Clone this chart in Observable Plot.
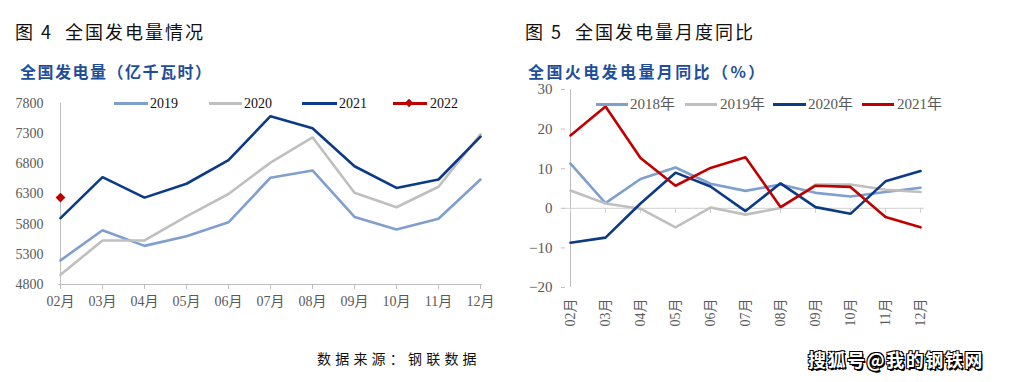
<!DOCTYPE html>
<html>
<head>
<meta charset="utf-8">
<script src="https://cdn.jsdelivr.net/npm/d3@7"></script>
<script src="https://cdn.jsdelivr.net/npm/@observablehq/plot@0.6"></script>
<style>
  html, body { margin: 0; padding: 0; background: #fff; }
  #root { position: relative; width: 1013px; height: 382px; overflow: hidden; background: #fff; }
  .abs { position: absolute; white-space: pre; }
  .title { font-family: "Noto Sans CJK SC", sans-serif; font-size: 18px; color: #111; letter-spacing: 2px; line-height: 18px; }
  .sub { font-family: "Noto Sans CJK SC", sans-serif; font-size: 16px; font-weight: bold; color: #1f4e99; line-height: 16px; }
  .leg { font-family: "Liberation Serif", "Noto Sans CJK SC", serif; line-height: 15px; }
  .swatch { position: absolute; height: 2.5px; }
  .plot { position: absolute; }
  .plot svg { overflow: visible; }
</style>
</head>
<body>
<div id="root"></div>
<script>
// ---------- data ----------
const months = ["02月","03月","04月","05月","06月","07月","08月","09月","10月","11月","12月"];

// 图4 全国发电量（亿千瓦时）
const genYears = ["2019","2020","2021","2022"];
const gen2019 = [5200, 5700, 5440, 5600, 5830, 6570, 6690, 5920, 5710, 5890, 6540];
const gen2020 = [4960, 5530, 5530, 5930, 6300, 6820, 7240, 6320, 6080, 6420, 7290];
const gen2021 = [5900, 6580, 6240, 6470, 6860, 7590, 7390, 6760, 6400, 6540, 7250];
const gen2022 = [6240];
const genTicks = [4800, 5300, 5800, 6300, 6800, 7300, 7800];

// 图5 全国火电发电量月同比（%）
const yoyYears = ["2018年","2019年","2020年","2021年"];
const yoy2018 = [11.3, 1.3, 7.4, 10.3, 6.2, 4.4, 6.0, 3.9, 3.0, 4.1, 5.2];
const yoy2019 = [4.5, 1.2, -0.1, -4.8, 0.2, -1.6, 0.1, 6.0, 6.0, 4.7, 4.1];
const yoy2020 = [-8.7, -7.4, 1.2, 9.0, 5.5, -0.7, 6.3, 0.3, -1.4, 6.8, 9.4];
const yoy2021 = [18.4, 25.7, 12.7, 5.7, 10.2, 12.9, 0.3, 5.7, 5.4, -2.2, -4.8];
const yoyTicks = [-20, -10, 0, 10, 20, 30];

const genColors = ["#7f9fcf", "#bfbfbf", "#0b3a86", "#c00000"];
const yoyColors = ["#7f9fcf", "#bfbfbf", "#0b3a86", "#c00000"];

// ---------- tables ----------
function toRows(years, arrays) {
  const rows = [];
  years.forEach((yr, i) => arrays[i].forEach((v, j) => rows.push({series: yr, month: months[j], value: v})));
  return rows;
}
const genRows = toRows(genYears.slice(0, 3), [gen2019, gen2020, gen2021]);
const gen22Rows = toRows(["2022"], [gen2022]);
const yoyRows = toRows(yoyYears, [yoy2018, yoy2019, yoy2020, yoy2021]);

const root = document.getElementById("root");
function addDiv(cls, text, left, top, extra = {}) {
  const d = document.createElement("div");
  d.className = "abs " + cls;
  d.textContent = text;
  d.style.left = left + "px";
  d.style.top = top + "px";
  Object.assign(d.style, extra);
  root.appendChild(d);
  return d;
}

// ---------- titles ----------
addDiv("title", "图 4  全国发电量情况", 15, 22);
addDiv("sub", "全国发电量（亿千瓦时）", 20, 63, {letterSpacing: "1.5px"});
addDiv("title", "图 5  全国发电量月度同比", 525, 22);
addDiv("sub", "全国火电发电量月同比（%）", 528, 63, {letterSpacing: "2.4px"});

// ---------- left chart ----------
const left = Plot.plot({
  width: 510, height: 250,
  marginLeft: 58, marginRight: 28, marginTop: 23, marginBottom: 46,
  style: {fontFamily: "'Liberation Serif', 'Noto Sans CJK SC', serif", fontSize: "14px", color: "#595959", background: "transparent", overflow: "visible"},
  x: {type: "point", domain: months, padding: 0},
  y: {domain: [4800, 7800]},
  color: {domain: genYears, range: genColors},
  marks: [
    Plot.ruleX([months[0]], {stroke: "#bfbfbf", strokeWidth: 1}),
    Plot.ruleY([4800], {stroke: "#bfbfbf", strokeWidth: 1}),
    Plot.axisY({ticks: genTicks, tickSize: 0, tickPadding: 15, tickFormat: d => String(d), fill: "#595959", fontSize: 14, label: null}),
    Plot.axisX({tickSize: 5, tickPadding: 7, stroke: "#bfbfbf", fill: "#595959", fontSize: 14, label: null}),
    Plot.line(genRows, {x: "month", y: "value", z: "series", stroke: "series", strokeWidth: 2.6, strokeLinejoin: "miter"}),
    Plot.dot(gen22Rows, {x: "month", y: "value", symbol: "diamond2", fill: "series", stroke: "series", r: 3.5})
  ]
});
const lw = document.createElement("div");
lw.className = "plot"; lw.style.left = "0px"; lw.style.top = "80px";
lw.appendChild(left);
root.appendChild(lw);

// left legend
const genLeg = [
  {x1: 114, x2: 148, tx: 150},
  {x1: 209, x2: 242, tx: 244},
  {x1: 302, x2: 337, tx: 339},
  {x1: 393, x2: 427, tx: 430}
];
genYears.forEach((yr, i) => {
  const g = genLeg[i];
  const s = document.createElement("div");
  s.className = "swatch";
  s.style.left = g.x1 + "px"; s.style.width = (g.x2 - g.x1) + "px";
  s.style.top = "102px"; s.style.background = genColors[i];
  root.appendChild(s);
  if (i === 3) {
    const m = document.createElement("div");
    m.style.position = "absolute";
    m.style.left = "406px"; m.style.top = "99.5px";
    m.style.width = "6px"; m.style.height = "6px";
    m.style.background = genColors[i];
    m.style.transform = "rotate(45deg)";
    root.appendChild(m);
  }
  addDiv("leg", yr, g.tx, 96, {fontSize: "14px", color: "#111"});
});

// ---------- right chart ----------
const right = Plot.plot({
  width: 503, height: 260,
  marginLeft: 55, marginRight: 89, marginTop: 9, marginBottom: 53,
  style: {fontFamily: "'Liberation Serif', 'Noto Sans CJK SC', serif", fontSize: "15px", color: "#595959", background: "transparent", overflow: "visible"},
  x: {type: "point", domain: months, padding: 0},
  y: {domain: [-20, 30]},
  color: {domain: yoyYears, range: yoyColors},
  marks: [
    Plot.ruleX([months[0]], {stroke: "#bfbfbf", strokeWidth: 1}),
    Plot.ruleY([0], {stroke: "#d0d0d0", strokeWidth: 1}),
    Plot.ruleX(months, {x: d => d, y1: 0, y2: -1.3, stroke: "#d0d0d0", strokeWidth: 1}),
    Plot.axisY({ticks: yoyTicks, tickSize: 4, tickPadding: 9, stroke: "#bfbfbf", fill: "#595959", fontSize: 15, label: null}),
    Plot.axisX({tickSize: 0, tickPadding: 11, tickRotate: -90, fill: "#595959", fontSize: 14, label: null}),
    Plot.line(yoyRows, {x: "month", y: "value", z: "series", stroke: "series", strokeWidth: 2.6, strokeLinejoin: "miter"})
  ]
});
const rw = document.createElement("div");
rw.className = "plot"; rw.style.left = "510px"; rw.style.top = "80px";
rw.appendChild(right);
root.appendChild(rw);

// right legend
const yoyLeg = [
  {x1: 596, x2: 628, tx: 630},
  {x1: 685, x2: 717, tx: 720},
  {x1: 773, x2: 806, tx: 808},
  {x1: 862, x2: 894, tx: 897}
];
yoyYears.forEach((yr, i) => {
  const g = yoyLeg[i];
  const s = document.createElement("div");
  s.className = "swatch";
  s.style.left = g.x1 + "px"; s.style.width = (g.x2 - g.x1) + "px";
  s.style.top = "103px"; s.style.background = yoyColors[i];
  root.appendChild(s);
  addDiv("leg", yr, g.tx, 96.5, {fontSize: "15px", color: "#595959"});
});

// ---------- footer ----------
addDiv("", "数据来源：钢联数据", 317, 351, {fontFamily: "'Noto Sans CJK SC', sans-serif", fontSize: "14px", lineHeight: "14px", letterSpacing: "4.2px", color: "#111"});
addDiv("", "搜狐号@我的钢铁网", 808, 350, {fontFamily: "'Noto Sans CJK SC', sans-serif", fontSize: "18px", lineHeight: "18px", fontWeight: "bold", letterSpacing: "1.5px", color: "#fff",
  textShadow: "1px 1px 0 #000, -1px -1px 0 #000, 1px -1px 0 #000, -1px 1px 0 #000, 1.5px 1.5px 0 #000"});
</script>
</body>
</html>
